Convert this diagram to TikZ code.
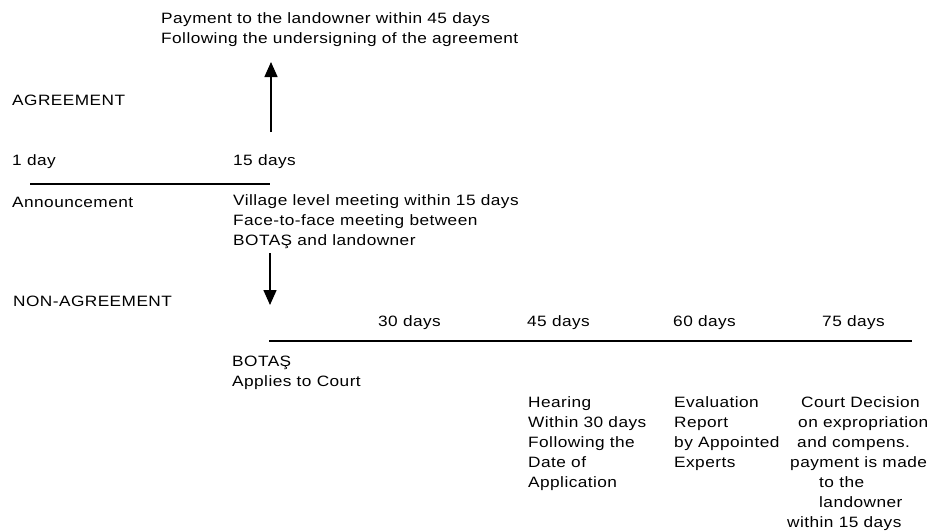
\documentclass[tikz,border=0pt]{standalone}
\usepackage{fontspec}
\setmainfont{Liberation Sans}[FakeStretch=1.15,LetterSpace=3]
\usetikzlibrary{arrows.meta}
\begin{document}
\begin{tikzpicture}[x=1pt,y=1pt,
  lbl/.style={anchor=base west, inner sep=0pt, font=\fontsize{15}{20}\selectfont},
  rule/.style={line width=1.6pt},
  arr/.style={line width=1.5pt, -{Triangle[width=13pt,length=15pt]}}]
\useasboundingbox (0,0) rectangle (936,-531);
% top text
\node[lbl] (pay1) at (161,-23) {Payment to the landowner within 45 days};
\node[lbl] (pay2) at (161,-43) {Following the undersigning of the agreement};
\node[lbl] (agr) at (12,-105) {AGREEMENT};
\node[lbl] (d1) at (12,-165) {1 day};
\node[lbl] (d15) at (233,-165) {15 days};
\node[lbl] (ann) at (12,-207) {Announcement};
\node[lbl] (vil1) at (233,-205) {Village level meeting within 15 days};
\node[lbl] (vil2) at (233,-225) {Face-to-face meeting between};
\node[lbl] (vil3) at (233,-245) {BOTAŞ and landowner};
\node[lbl] (nonagr) at (13,-306) {NON-AGREEMENT};
% second time line labels
\node[lbl] (d30) at (378,-326) {30 days};
\node[lbl] (d45) at (527,-326) {45 days};
\node[lbl] (d60) at (673,-326) {60 days};
\node[lbl] (d75) at (822,-326) {75 days};
\node[lbl] (bot1) at (232,-366) {BOTAŞ};
\node[lbl] (bot2) at (232,-386) {Applies to Court};
% hearing column
\node[lbl] (h1) at (528,-407) {Hearing};
\node[lbl] (h2) at (528,-427) {Within 30 days};
\node[lbl] (h3) at (528,-447) {Following the};
\node[lbl] (h4) at (528,-467) {Date of};
\node[lbl] (h5) at (528,-487) {Application};
% evaluation column
\node[lbl] (e1) at (674,-407) {Evaluation};
\node[lbl] (e2) at (674,-427) {Report};
\node[lbl] (e3) at (674,-447) {by Appointed};
\node[lbl] (e4) at (674,-467) {Experts};
% court column
\node[lbl] (c1) at (801,-407) {Court Decision};
\node[lbl] (c2) at (798,-427) {on expropriation};
\node[lbl] (c3) at (797,-447) {and compens.};
\node[lbl] (c4) at (790,-467) {payment is made};
\node[lbl] (c5) at (819,-487) {to the};
\node[lbl] (c6) at (819,-507) {landowner};
\node[lbl] (c7) at (787,-527) {within 15 days};
% lines
\coordinate (l1a) at (30,-184);
\coordinate (l1b) at (270,-184);
\coordinate (l2a) at (269,-341);
\coordinate (l2b) at (912,-341);
\draw[rule] (l1a) -- (l1b);
\draw[rule] (l2a) -- (l2b);
% arrows
\coordinate (upS) at (271,-132);
\coordinate (upE) at (271,-62);
\coordinate (dnS) at (270,-253);
\coordinate (dnE) at (270,-305);
\draw[arr] (upS) -- (upE);
\draw[arr] (dnS) -- (dnE);
\end{tikzpicture}
\end{document}
